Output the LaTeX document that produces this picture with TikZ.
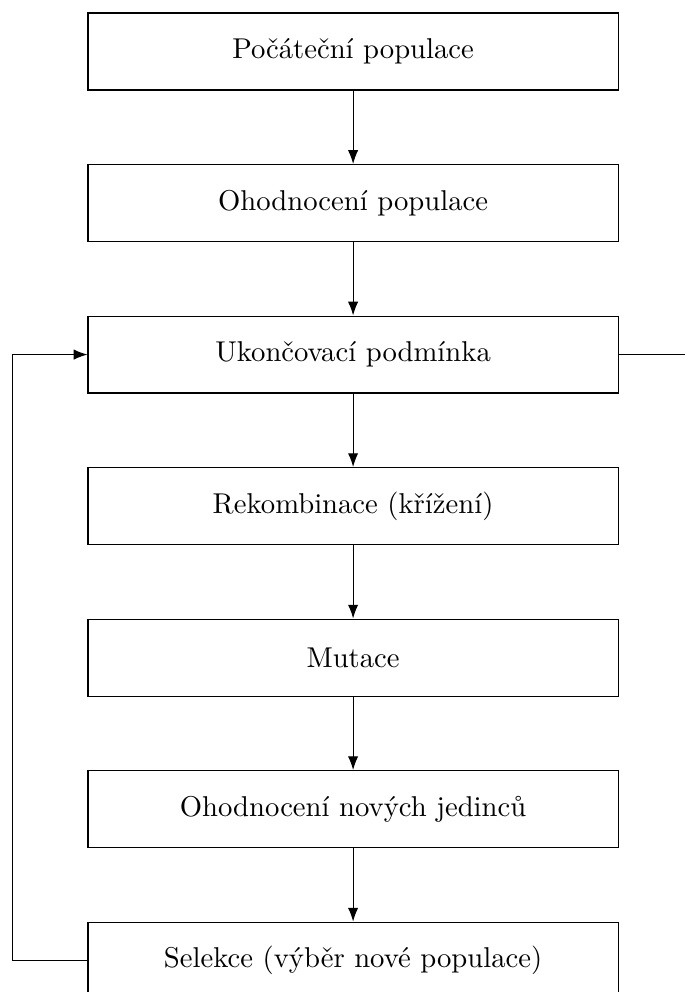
\documentclass[tikz,border=0pt]{standalone}
\usepackage{tikz}
\usetikzlibrary{arrows.meta,positioning}
\tikzset {
  >=Latex,
  stage/.style={draw, minimum width=6.5cm, minimum height=0.944cm},
}

\begin{document}
\begin{tikzpicture}[node distance=0.9cm]
  \useasboundingbox (0,0) rectangle (8.4,-12.165);
  \node[stage] (pocatek) at (4.33,-0.632) {Počáteční populace};
  \node[stage, below=of pocatek] (hodnoceni) {Ohodnocení populace};
  \node[stage, below=of hodnoceni] (podminka) {Ukončovací podmínka};
  \node[stage, below=of podminka] (krizeni) {Rekombinace (křížení)};
  \node[stage, below=of krizeni] (mutace) {Mutace};
  \node[stage, below=of mutace] (jedinci) {Ohodnocení nových jedinců};
  \node[stage, below=of jedinci] (selekce) {Selekce (výběr nové populace)};
  \coordinate[right=0.82cm of podminka.east] (konec);
  \draw[->] (pocatek) -- (hodnoceni);
  \draw[->] (hodnoceni) -- (podminka);
  \draw[->] (podminka) -- (krizeni);
  \draw[->] (krizeni) -- (mutace);
  \draw[->] (mutace) -- (jedinci);
  \draw[->] (jedinci) -- (selekce);
  \draw (podminka.east) -- (konec);
  \draw[->] (selekce.west) -- ++(-0.923,0) |- (podminka.west);
\end{tikzpicture}
\end{document}
